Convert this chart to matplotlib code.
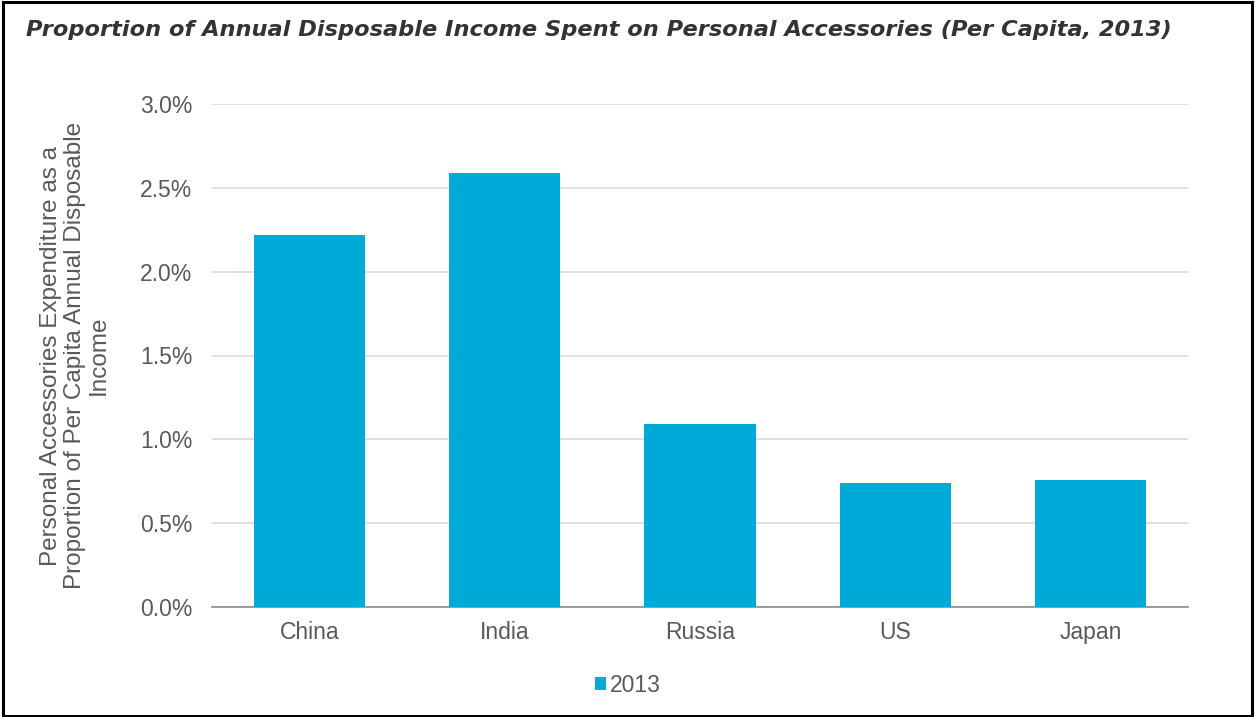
import matplotlib.pyplot as plt
from matplotlib.ticker import FuncFormatter
from matplotlib.patches import Rectangle

countries = ['China', 'India', 'Russia', 'US', 'Japan']
share_2013 = [2.22, 2.59, 1.09, 0.74, 0.76]
y_ticks = [0.0, 0.5, 1.0, 1.5, 2.0, 2.5, 3.0]

bar_color = '#00AAD8'
text_gray = '#595959'

fig = plt.figure(figsize=(12.55, 7.17), dpi=100)
plt.rcParams['font.family'] = ['Liberation Sans', 'DejaVu Sans']

# outer border of the picture
fig.patches.append(Rectangle((0.002, 0.002), 0.996, 0.995, transform=fig.transFigure,
                             fill=False, edgecolor='black', linewidth=2.2))

fig.text(26 / 1255, 1 - 30 / 717, 'Proportion of Annual Disposable Income Spent on Personal Accessories (Per Capita, 2013)',
         family='DejaVu Sans', fontsize=16.2, fontweight='bold', fontstyle='italic',
         color='#333333', va='center', ha='left')

ax = fig.add_axes([212 / 1255, 1 - 607 / 717, 976 / 1255, 503 / 717])
x = range(len(countries))
ax.bar(x, share_2013, width=0.57, color=bar_color, label='2013', zorder=3)

ax.set_xlim(-0.5, len(countries) - 0.5)
ax.set_ylim(0, 3.0)
ax.set_yticks(y_ticks)
ax.yaxis.set_major_formatter(FuncFormatter(lambda v, p: f'{v:.1f}%'))
ax.set_xticks(list(x))
ax.set_xticklabels(countries)
ax.grid(axis='y', color='#D9D9D9', linewidth=1.2, zorder=0)
for s in ['top', 'right', 'left']:
    ax.spines[s].set_visible(False)
ax.spines['bottom'].set_color('#8C8C8C')
ax.spines['bottom'].set_linewidth(1.2)
ax.tick_params(axis='both', length=0, labelsize=16.5, colors=text_gray)
ax.tick_params(axis='y', pad=14)
ax.tick_params(axis='x', pad=10)

ax.set_ylabel('Personal Accessories Expenditure as a\nProportion of Per Capita Annual Disposable\nIncome',
              fontsize=17.5, color=text_gray, linespacing=1.12, labelpad=22)

# legend sits at the centre of the figure, not of the axes
fig.legend(loc='center', bbox_to_anchor=(0.5, 1 - 685 / 717), frameon=False,
           fontsize=16.5, handlelength=0.5, handleheight=0.5, handletextpad=0.15,
           labelcolor=text_gray)

fig.savefig('out.png', dpi=100)
